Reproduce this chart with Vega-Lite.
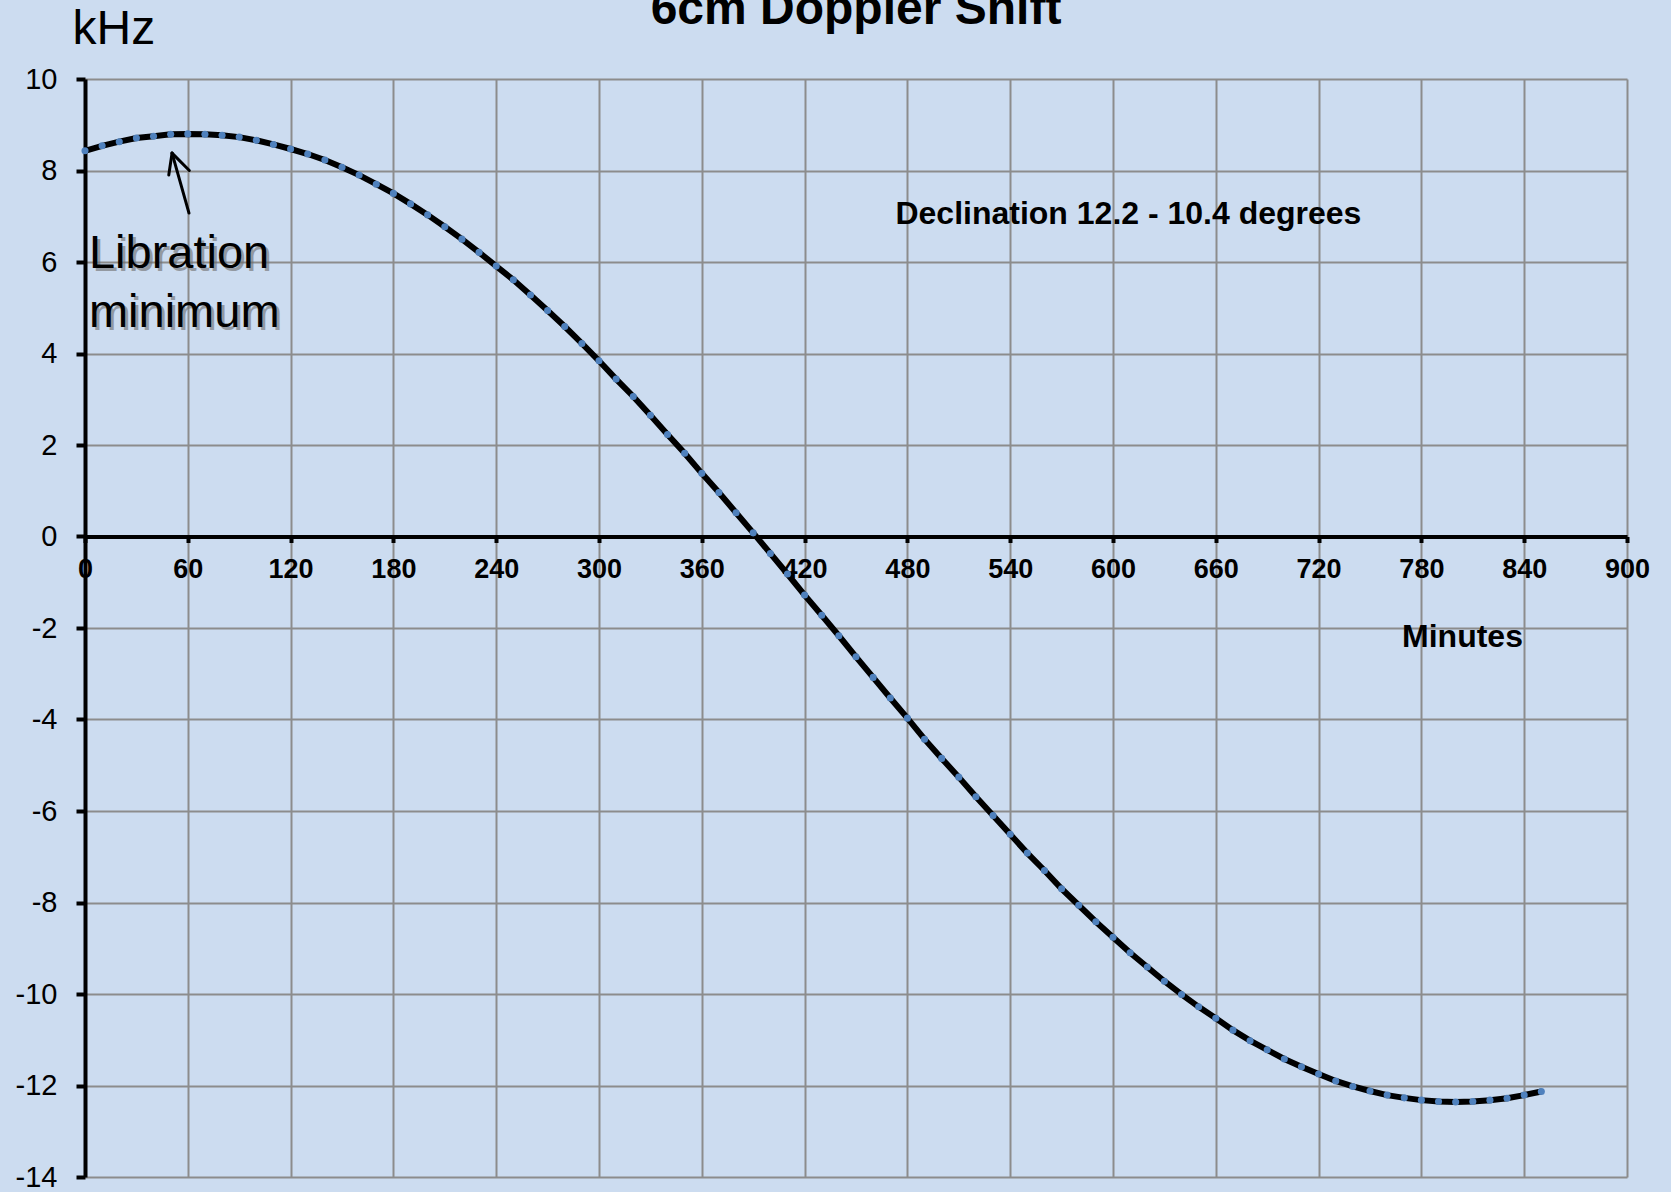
{
  "$schema": "https://vega.github.io/schema/vega-lite/v6.json",
  "width": 1542,
  "height": 1098,
  "autosize": {"type": "none"},
  "padding": {"left": 85, "top": 79, "right": 44, "bottom": 15},
  "background": "#CCDCF0",
  "config": {"view": {"stroke": null}, "font": "Liberation Sans"},
  "title": {"text": "6cm Doppler Shift", "fontSize": 48, "fontWeight": "bold", "color": "#000000", "anchor": "middle", "baseline": "alphabetic", "offset": -13, "dy": 54},
  "datasets": {
    "curve": [
      {"t": 0, "v": 8.43}, {"t": 10, "v": 8.54}, {"t": 20, "v": 8.63}, {"t": 30, "v": 8.71}, {"t": 40, "v": 8.75},
      {"t": 50, "v": 8.79}, {"t": 60, "v": 8.80}, {"t": 70, "v": 8.79}, {"t": 80, "v": 8.77}, {"t": 90, "v": 8.73},
      {"t": 100, "v": 8.66}, {"t": 110, "v": 8.57}, {"t": 120, "v": 8.47}, {"t": 130, "v": 8.36}, {"t": 140, "v": 8.23},
      {"t": 150, "v": 8.07}, {"t": 160, "v": 7.90}, {"t": 170, "v": 7.70}, {"t": 180, "v": 7.50}, {"t": 190, "v": 7.27},
      {"t": 200, "v": 7.03}, {"t": 210, "v": 6.77}, {"t": 220, "v": 6.50}, {"t": 230, "v": 6.21}, {"t": 240, "v": 5.91},
      {"t": 250, "v": 5.61}, {"t": 260, "v": 5.28}, {"t": 270, "v": 4.94}, {"t": 280, "v": 4.59}, {"t": 290, "v": 4.22},
      {"t": 300, "v": 3.84}, {"t": 310, "v": 3.44}, {"t": 320, "v": 3.06}, {"t": 330, "v": 2.65}, {"t": 340, "v": 2.23},
      {"t": 350, "v": 1.82}, {"t": 360, "v": 1.38}, {"t": 370, "v": 0.96}, {"t": 380, "v": 0.52}, {"t": 390, "v": 0.08},
      {"t": 400, "v": -0.37}, {"t": 410, "v": -0.82}, {"t": 420, "v": -1.28}, {"t": 430, "v": -1.72}, {"t": 440, "v": -2.17},
      {"t": 450, "v": -2.63}, {"t": 460, "v": -3.08}, {"t": 470, "v": -3.53}, {"t": 480, "v": -3.97}, {"t": 490, "v": -4.43},
      {"t": 500, "v": -4.85}, {"t": 510, "v": -5.26}, {"t": 520, "v": -5.69}, {"t": 530, "v": -6.10}, {"t": 540, "v": -6.51},
      {"t": 550, "v": -6.92}, {"t": 560, "v": -7.30}, {"t": 570, "v": -7.70}, {"t": 580, "v": -8.06}, {"t": 590, "v": -8.42},
      {"t": 600, "v": -8.76}, {"t": 610, "v": -9.10}, {"t": 620, "v": -9.41}, {"t": 630, "v": -9.72}, {"t": 640, "v": -10.01},
      {"t": 650, "v": -10.28}, {"t": 660, "v": -10.53}, {"t": 670, "v": -10.79}, {"t": 680, "v": -11.02}, {"t": 690, "v": -11.22},
      {"t": 700, "v": -11.42}, {"t": 710, "v": -11.59}, {"t": 720, "v": -11.75}, {"t": 730, "v": -11.90}, {"t": 740, "v": -12.02},
      {"t": 750, "v": -12.12}, {"t": 760, "v": -12.21}, {"t": 770, "v": -12.27}, {"t": 780, "v": -12.32}, {"t": 790, "v": -12.35},
      {"t": 800, "v": -12.36}, {"t": 810, "v": -12.35}, {"t": 820, "v": -12.32}, {"t": 830, "v": -12.28}, {"t": 840, "v": -12.21},
      {"t": 850, "v": -12.13}
    ],
    "arrow": [
      {"t": 60.7, "v": 7.07, "t2": 50.8, "v2": 8.38},
      {"t": 50.8, "v": 8.38, "t2": 48.9, "v2": 7.90},
      {"t": 50.8, "v": 8.38, "t2": 60.9, "v2": 8.0}
    ],
    "note": [
      {"t": 2.3, "v": 5.87, "label": "Libration\nminimum"}
    ],
    "decl": [
      {"t": 609, "v": 7.04, "label": "Declination 12.2 - 10.4 degrees"}
    ]
  },
  "layer": [
    {
      "data": {"name": "curve"},
      "mark": {"type": "line", "color": "#000000", "strokeWidth": 6, "clip": false},
      "encoding": {
        "x": {
          "field": "t", "type": "quantitative",
          "scale": {"domain": [0, 900], "nice": false, "zero": false},
          "axis": {
            "title": "Minutes",
            "values": [0, 60, 120, 180, 240, 300, 360, 420, 480, 540, 600, 660, 720, 780, 840, 900],
            "grid": true, "gridColor": "#8C8C8C", "gridWidth": 2,
            "domainColor": "#000000", "domainWidth": 4,
            "tickColor": "#000000", "tickWidth": 4, "tickSize": 6,
            "labelFontSize": 27, "labelFontWeight": "bold", "labelColor": "#000000", "labelPadding": 14,
            "labelFlush": false, "labelOverlap": false,
            "offset": -640.5,
            "titleFontSize": 32, "titleFontWeight": "bold", "titleColor": "#000000",
            "titleX": 1377, "titleY": 100, "titleAlign": "center", "titleBaseline": "middle"
          }
        },
        "y": {
          "field": "v", "type": "quantitative",
          "scale": {"domain": [-14, 10], "nice": false, "zero": false},
          "axis": {
            "title": "kHz",
            "values": [-14, -12, -10, -8, -6, -4, -2, 0, 2, 4, 6, 8, 10],
            "labelExpr": "'' + datum.value",
            "grid": true, "gridColor": "#8C8C8C", "gridWidth": 2,
            "domainColor": "#000000", "domainWidth": 4,
            "tickColor": "#000000", "tickWidth": 4, "tickSize": 9,
            "labelFontSize": 29, "labelColor": "#000000", "labelPadding": 19,
            "labelFlush": false, "labelOverlap": false,
            "titleAngle": 0, "titleX": -13, "titleY": -36, "titleAlign": "left", "titleBaseline": "alphabetic",
            "titleFontSize": 48, "titleFontWeight": "normal", "titleColor": "#000000"
          }
        }
      }
    },
    {
      "data": {"name": "curve"},
      "mark": {"type": "point", "filled": true, "shape": "circle", "color": "#4F81BD", "size": 50, "opacity": 1, "clip": false},
      "encoding": {
        "x": {"field": "t", "type": "quantitative"},
        "y": {"field": "v", "type": "quantitative"}
      }
    },
    {
      "data": {"name": "arrow"},
      "mark": {"type": "rule", "color": "#000000", "strokeWidth": 3, "strokeCap": "round"},
      "encoding": {
        "x": {"field": "t", "type": "quantitative"},
        "y": {"field": "v", "type": "quantitative"},
        "x2": {"field": "t2"},
        "y2": {"field": "v2"}
      }
    },
    {
      "data": {"name": "note"},
      "mark": {"type": "text", "align": "left", "baseline": "alphabetic", "fontSize": 47, "lineBreak": "\n", "lineHeight": 59, "color": "#6E6E6E", "opacity": 0.6, "dx": 3, "dy": 3},
      "encoding": {
        "x": {"field": "t", "type": "quantitative"},
        "y": {"field": "v", "type": "quantitative"},
        "text": {"field": "label"}
      }
    },
    {
      "data": {"name": "note"},
      "mark": {"type": "text", "align": "left", "baseline": "alphabetic", "fontSize": 47, "lineBreak": "\n", "lineHeight": 59, "color": "#000000"},
      "encoding": {
        "x": {"field": "t", "type": "quantitative"},
        "y": {"field": "v", "type": "quantitative"},
        "text": {"field": "label"}
      }
    },
    {
      "data": {"name": "decl"},
      "mark": {"type": "text", "align": "center", "baseline": "middle", "fontSize": 32, "fontWeight": "bold", "color": "#000000"},
      "encoding": {
        "x": {"field": "t", "type": "quantitative"},
        "y": {"field": "v", "type": "quantitative"},
        "text": {"field": "label"}
      }
    }
  ]
}
